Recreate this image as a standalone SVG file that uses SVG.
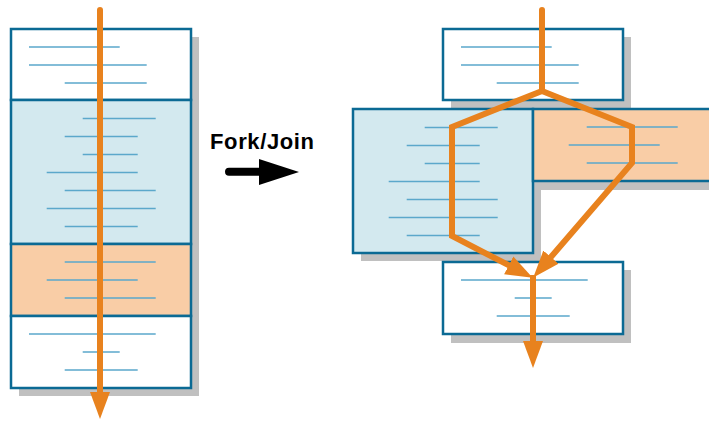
<svg xmlns="http://www.w3.org/2000/svg" xmlns:xlink="http://www.w3.org/1999/xlink" width="709" height="421" viewBox="0 0 709 421">
<style>
.sh{fill:#c0c0c0}
.bx{stroke:#0b6a94;stroke-width:2.5}
.w{fill:#ffffff}
.b{fill:#d3e9ef}
.o{fill:#f9cda6}
.tl{stroke:#5ba8cb;stroke-width:1.5;fill:none}
.fl{stroke:#e8821e;stroke-width:6;fill:none;stroke-linejoin:miter}
.lbl{font-family:"Liberation Sans",Arial,sans-serif;font-weight:bold;font-size:22px;fill:#000}
</style>
<defs>
<marker id="ah" markerUnits="userSpaceOnUse" markerWidth="30" markerHeight="22" refX="2" refY="10" orient="auto" viewBox="0 0 30 22">
<path d="M0,0 L27,10 L0,20 Z" fill="#e8821e"/>
</marker>
<g id="lTop">
<path d="M29,47H119.7M29,65H146.7M64.7,83H146.7"/>
</g>
<g id="lBlue">
<path d="M82.7,118.5H155.7M64.7,136.5H137.7M82.7,154.5H137.7M46.7,172.5H137.7M64.7,190.5H155.7M46.7,208.5H155.7M64.7,226.5H137.7"/>
</g>
<g id="lOr">
<path d="M64.7,262H155.7M46.7,280H137.7M64.7,298H155.7"/>
</g>
<g id="lBot">
<path d="M29,334H155.7M82.7,352H119.7M64.7,370H137.7"/>
</g>
</defs>
<rect width="709" height="421" fill="#ffffff"/>

<g id="left-stack">
<rect class="sh" x="19" y="37" width="180" height="359"/>
<g id="left-s1">
<rect class="bx w" x="11" y="29" width="180" height="71"/>
<use xlink:href="#lTop" class="tl"/>
</g>
<g id="left-s2">
<rect class="bx b" x="11" y="100" width="180" height="144"/>
<use xlink:href="#lBlue" class="tl"/>
</g>
<g id="left-s3">
<rect class="bx o" x="11" y="244" width="180" height="72"/>
<use xlink:href="#lOr" class="tl"/>
</g>
<g id="left-s4">
<rect class="bx w" x="11" y="316" width="180" height="72"/>
<use xlink:href="#lBot" class="tl"/>
</g>
</g>

<g id="label">
<text class="lbl" x="210" y="148.5" textLength="104" lengthAdjust="spacing">Fork/Join</text>
<path d="M229,171.7H262" stroke="#000" stroke-width="8" stroke-linecap="round"/>
<path d="M259,159L299,172L259,185Z" fill="#000"/>
</g>

<g id="right-top">
<rect class="sh" x="451" y="37" width="180" height="71"/>
<rect class="bx w" x="443" y="29" width="180" height="71"/>
<use xlink:href="#lTop" class="tl" transform="translate(432,0)"/>
</g>
<g id="right-blue">
<rect class="sh" x="361" y="117" width="180" height="144"/>
</g>
<g id="right-orange">
<rect class="sh" x="541" y="117" width="180" height="73"/>
</g>
<g id="right-blue-box">
<rect class="bx b" x="353" y="109" width="180" height="144"/>
<use xlink:href="#lBlue" class="tl" transform="translate(342,9)"/>
</g>
<g id="right-orange-box">
<rect class="bx o" x="533" y="109" width="180" height="72"/>
<use xlink:href="#lOr" class="tl" transform="translate(522,-135)"/>
</g>
<g id="right-bottom">
<rect class="sh" x="451" y="270" width="180" height="73"/>
<rect class="bx w" x="443" y="262" width="180" height="72"/>
<use xlink:href="#lBot" class="tl" transform="translate(432,-54)"/>
</g>

<g id="connectors">
<path class="fl" d="M100,10V394" stroke-linecap="round" marker-end="url(#ah)"/>
<path class="fl" d="M542,10V91" stroke-linecap="round"/>
<path class="fl" d="M542,91L452,127V236L510.5,266.2" marker-end="url(#ah)"/>
<path class="fl" d="M542,91L632,127V163L549.6,258.6" marker-end="url(#ah)"/>
<path class="fl" d="M533,275V343" marker-end="url(#ah)"/>
</g>
</svg>
